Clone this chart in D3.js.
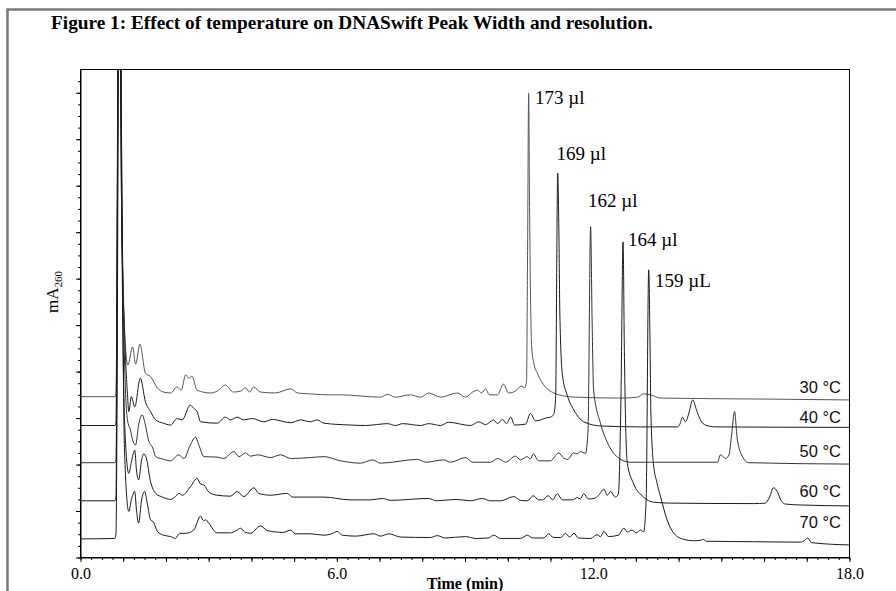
<!DOCTYPE html>
<html><head><meta charset="utf-8">
<script src="https://cdn.jsdelivr.net/npm/d3@7/dist/d3.min.js"></script>
<style>
html,body{margin:0;padding:0;background:#fff;}
svg{display:block;}
</style></head>
<body>
<div id="chart"></div>
<script>
// ---------- DATA ----------
const title = "Figure 1: Effect of temperature on DNASwift Peak Width and resolution.";
const xAxisTitle = "Time (min)";
const yAxisTitle = "mA";
const yAxisSub = "260";
const xTickLabels = [0, 6, 12, 18];
const temperatures = ["30 °C", "40 °C", "50 °C", "60 °C", "70 °C"];
const peakVolumes = ["173 µl", "169 µl", "162 µl", "164 µl", "159 µL"];

// [time (min), absorbance (arbitrary mA, offset traces)]
const trace30 = [[0,34.6],[0.807,34.6],[0.83,35.2],[0.91,150],[0.965,77],[1.03,49],[1.11,41.4],[1.22,45.3],[1.29,41.6],[1.39,45.9],[1.52,39.7],[1.64,38.9],[1.80,36.5],[1.94,35.6],[2.11,35.4],[2.26,36.7],[2.36,36.0],[2.46,39.3],[2.54,38.6],[2.61,39.0],[2.73,36.0],[3.04,35.4],[3.20,35.8],[3.39,37.1],[3.58,35.6],[3.75,35.8],[3.86,36.5],[3.96,35.6],[4.05,36.7],[4.21,35.6],[4.56,35.4],[4.92,36.3],[5.08,35.4],[5.38,35.2],[5.85,35.0],[6.09,35.0],[7.02,34.5],[7.19,35.1],[7.37,34.5],[7.72,35.0],[7.96,34.5],[8.15,35.4],[8.43,34.5],[8.82,35.4],[9.01,34.5],[9.18,35.6],[9.29,36.0],[9.39,35.4],[9.48,36.3],[9.57,35.0],[9.76,35.0],[9.90,37.3],[10.02,35.4],[10.18,35.8],[10.32,36.9],[10.40,36.5],[10.44,38.0],[10.465,66],[10.49,99.9],[10.51,76.9],[10.535,55.4],[10.56,45.3],[10.62,41.4],[10.69,39.7],[10.88,36.7],[11.08,35.4],[11.35,34.7],[11.59,34.5],[12.64,34.3],[13.04,34.5],[13.18,35.2],[13.34,35.0],[13.58,34.3],[15.92,34.1],[18,33.9]];
const trace40 = [[0,28.4],[0.807,28.4],[0.83,29],[0.90,150],[0.96,77],[1.03,48.9],[1.10,35.0],[1.13,31.4],[1.19,34.6],[1.27,32.4],[1.40,38.6],[1.52,33.5],[1.64,31.4],[1.76,29.6],[1.94,28.9],[2.11,28.5],[2.26,29.9],[2.38,29.6],[2.57,32.8],[2.65,32.1],[2.73,31.4],[2.81,29.2],[3.20,28.9],[3.39,30.2],[3.51,29.6],[3.67,30.2],[3.82,29.6],[4.02,29.9],[4.29,29.2],[4.49,29.7],[4.92,29.0],[5.15,29.6],[5.38,29.2],[5.54,29.6],[5.70,28.9],[6.32,28.5],[6.67,28.4],[7.19,28.8],[7.37,28.4],[7.54,28.8],[7.96,28.4],[8.15,28.8],[8.43,28.4],[8.61,29.1],[9.13,28.4],[9.32,29.2],[9.48,28.6],[9.67,29.6],[9.76,28.8],[9.88,29.7],[9.97,28.8],[10.07,30.2],[10.16,28.5],[10.42,28.7],[10.53,31.0],[10.65,29.4],[10.77,29.6],[10.88,30.0],[11.0,30.2],[11.07,30.7],[11.12,33.9],[11.17,82.7],[11.20,68.3],[11.22,52.6],[11.28,39.3],[11.39,35.0],[11.55,31.7],[11.78,29.2],[12.17,28.3],[13.11,28.1],[13.97,28.1],[14.04,28.9],[14.09,30.2],[14.16,29.2],[14.23,30.7],[14.33,33.9],[14.42,31.7],[14.51,29.6],[14.63,28.5],[14.86,28.1],[18,28.0]];
const trace50 = [[0,20.4],[0.807,20.4],[0.83,21],[0.91,150],[0.97,77],[1.03,42.5],[1.10,29.6],[1.17,27.4],[1.22,25.3],[1.29,24.2],[1.36,28.5],[1.44,30.7],[1.52,28.5],[1.59,25.3],[1.69,23.6],[1.76,21.7],[1.92,21.2],[2.11,20.8],[2.30,22.1],[2.42,21.3],[2.57,24.2],[2.69,25.9],[2.77,24.2],[2.89,21.7],[3.20,21.6],[3.35,21.3],[3.59,22.8],[3.71,21.7],[3.86,22.5],[3.98,21.8],[4.14,22.1],[4.45,21.5],[4.68,22.1],[4.92,21.3],[5.38,21.5],[5.70,21.7],[6.09,20.8],[6.55,20.3],[6.84,21.0],[7.02,20.3],[7.89,21.1],[8.08,20.5],[8.50,21.0],[8.66,20.5],[9.01,21.5],[9.18,20.5],[9.60,20.5],[9.76,21.3],[9.95,20.5],[10.18,21.8],[10.30,21.0],[10.46,21.7],[10.53,21.2],[10.60,22.3],[10.72,20.8],[11.0,20.8],[11.19,22.5],[11.31,21.4],[11.40,21.1],[11.54,22.5],[11.63,22.3],[11.70,22.8],[11.82,22.4],[11.88,27.4],[11.94,71.2],[11.975,51.1],[12.01,36.0],[12.17,28.9],[12.34,24.6],[12.57,21.6],[12.87,20.5],[13.34,20.5],[14.91,20.5],[14.98,22.1],[15.10,21.3],[15.18,22.1],[15.24,26.4],[15.31,31.4],[15.37,25.7],[15.49,21.8],[15.64,20.4],[18,20.1]];
const trace60 = [[0,12.2],[0.807,12.2],[0.83,13],[0.90,150],[0.96,77],[1.03,29.6],[1.13,18.1],[1.19,20.5],[1.27,23.1],[1.31,18.8],[1.36,16.7],[1.43,21.0],[1.48,22.3],[1.54,21.4],[1.64,16.3],[1.76,13.8],[1.92,13.0],[2.11,12.5],[2.22,13.1],[2.30,13.8],[2.39,13.4],[2.57,15.2],[2.73,17.0],[2.81,15.8],[2.89,15.6],[3.00,14.1],[3.20,13.4],[3.51,13.2],[3.67,14.2],[3.82,13.1],[4.06,15.0],[4.17,13.8],[4.45,13.4],[4.84,13.8],[4.96,13.0],[5.38,13.0],[5.70,13.0],[6.32,12.4],[6.79,12.4],[7.07,12.7],[7.26,12.3],[8.15,12.7],[8.33,12.2],[8.78,12.5],[9.13,12.2],[9.40,12.7],[9.60,12.2],[9.83,12.2],[10.14,13.1],[10.30,12.3],[10.46,12.2],[10.60,13.3],[10.72,12.4],[10.81,12.4],[10.95,13.3],[11.05,12.4],[11.16,13.7],[11.28,12.4],[11.52,12.4],[11.63,12.9],[11.70,12.6],[11.78,13.7],[11.89,12.6],[12.02,12.7],[12.13,13.4],[12.25,14.7],[12.33,13.4],[12.41,14.2],[12.52,13.0],[12.59,13.7],[12.65,33.9],[12.70,67.9],[12.73,44.6],[12.77,25.3],[12.80,20.3],[12.94,16.0],[13.18,13.0],[13.41,11.9],[13.81,11.7],[15.75,11.6],[16.03,11.7],[16.13,13.0],[16.22,15.0],[16.31,14.2],[16.39,12.4],[16.50,11.5],[16.85,11.3],[18,11.1]];
const trace70 = [[0,4.0],[0.807,4.1],[0.83,5],[0.92,150],[0.97,77],[1.03,23.1],[1.13,9.9],[1.19,12.4],[1.27,14.2],[1.31,10.2],[1.36,7.4],[1.43,12.4],[1.50,14.2],[1.57,11.3],[1.64,8.1],[1.71,7.6],[1.80,5.6],[1.94,4.8],[2.11,4.5],[2.22,4.1],[2.32,5.2],[2.46,5.2],[2.65,5.9],[2.81,8.9],[2.88,7.9],[2.93,8.1],[3.00,7.4],[3.20,5.3],[3.51,5.3],[3.63,5.7],[3.75,6.3],[3.84,5.5],[3.98,5.2],[4.21,6.8],[4.37,5.8],[4.56,5.5],[4.75,5.4],[4.92,5.9],[5.03,5.1],[5.38,5.1],[5.70,4.8],[5.88,5.1],[6.01,5.6],[6.13,4.8],[6.44,4.6],[6.87,5.1],[7.02,4.6],[7.22,5.1],[7.49,4.4],[8.19,4.3],[8.35,4.7],[8.54,4.2],[9.01,4.5],[9.25,4.1],[9.55,4.2],[9.67,4.8],[9.83,4.1],[10.30,4.1],[10.46,4.8],[10.58,4.2],[10.84,4.2],[10.96,5.1],[11.07,4.3],[11.24,4.3],[11.35,5.2],[11.45,4.4],[11.55,5.2],[11.66,4.2],[11.94,4.1],[12.09,4.9],[12.17,4.5],[12.25,5.6],[12.36,4.5],[12.59,4.8],[12.72,6.3],[12.80,5.5],[12.91,5.9],[13.01,5.3],[13.11,5.9],[13.18,5.5],[13.24,12.4],[13.30,61.9],[13.33,46.8],[13.35,31.7],[13.41,20.3],[13.49,16.2],[13.58,13.0],[13.73,8.1],[13.89,5.2],[14.12,3.9],[14.35,3.6],[14.51,3.7],[14.58,3.9],[14.65,3.5],[15.75,3.4],[16.85,3.3],[16.95,3.7],[17.02,4.2],[17.11,3.2],[18,2.7]];
const traces = [trace30, trace40, trace50, trace60, trace70];

// ---------- LAYOUT ----------
const W = 896, H = 591;
const plot = {left: 80.5, right: 849.5, top: 69.5, bottom: 557.5};
const traceColors = ["#555", "#1a1a1a", "#333", "#1a1a1a", "#1a1a1a"];
const tempLabelBaseline = [392.5, 422.5, 456.5, 497, 528];
const volumeLabelPos = [[535,104],[556.5,159.5],[588,207],[628,246],[655,287]];

const svg = d3.select("#chart").append("svg").attr("width", W).attr("height", H);

// outer gray frame
svg.append("rect").attr("x", 7.5).attr("y", 9.5).attr("width", 1000).attr("height", 1000)
  .attr("fill", "none").attr("stroke", "#7a7a7a").attr("stroke-width", 2.5);

const serif = "'Liberation Serif','Times New Roman',serif";
svg.append("text").attr("x", 51).attr("y", 29)
  .attr("font-family", serif)
  .attr("font-weight", "bold").attr("font-size", 19.3).attr("fill", "#000").text(title);

const x = d3.scaleLinear().domain([0, 18]).range([plot.left, plot.right]);
const y = d3.scaleLinear().domain([0, 105]).range([plot.bottom, plot.top]);

svg.append("clipPath").attr("id", "clip").append("rect")
  .attr("x", plot.left).attr("y", plot.top).attr("width", plot.right - plot.left).attr("height", plot.bottom - plot.top);

const line = d3.line().x(d => x(d[0])).y(d => y(d[1])).curve(d3.curveMonotoneX);
const gLines = svg.append("g").attr("clip-path", "url(#clip)");
traces.forEach((tr, i) => {
  gLines.append("path").datum(tr).attr("d", line).attr("fill", "none")
    .attr("stroke", traceColors[i]).attr("stroke-width", 1).attr("stroke-linejoin", "round");
});

// frame
svg.append("rect").attr("x", plot.left).attr("y", plot.top)
  .attr("width", plot.right - plot.left).attr("height", plot.bottom - plot.top)
  .attr("fill", "none").attr("stroke", "#000").attr("stroke-width", 1);

// x axis minor
svg.append("g").attr("transform", `translate(0,${plot.bottom})`)
  .call(d3.axisBottom(x).tickValues(d3.range(0, 18.001, 0.25)).tickSize(2.5).tickSizeOuter(0).tickFormat(""))
  .call(g => g.select(".domain").remove());
// x axis major
const xMajor = svg.append("g").attr("transform", `translate(0,${plot.bottom})`)
  .call(d3.axisBottom(x).tickValues(d3.range(0, 18.001, 1)).tickSize(4.5).tickSizeOuter(0).tickPadding(5.5)
    .tickFormat(d => xTickLabels.includes(d) ? d3.format(".1f")(d) : ""));
xMajor.select(".domain").attr("stroke", "#000");
xMajor.selectAll("text").attr("font-family", serif).attr("font-size", 16).attr("fill", "#000");

// y axis minor + major (no labels)
svg.append("g").attr("transform", `translate(${plot.left},0)`)
  .call(d3.axisLeft(y).tickValues(d3.range(0, 105, 2.5)).tickSize(2.5).tickSizeOuter(0).tickFormat(""))
  .call(g => g.select(".domain").remove());
svg.append("g").attr("transform", `translate(${plot.left},0)`)
  .call(d3.axisLeft(y).tickValues(d3.range(0, 101, 10)).tickSize(4.5).tickSizeOuter(0).tickFormat(""));

// axis titles
svg.append("text").attr("x", 465).attr("y", 589).attr("text-anchor", "middle")
  .attr("font-family", serif).attr("font-weight", "bold").attr("font-size", 16).text(xAxisTitle);
const yt = svg.append("text").attr("transform", "translate(58,292) rotate(-90)").attr("text-anchor", "middle")
  .attr("font-family", serif).attr("font-size", 17);
yt.append("tspan").text(yAxisTitle);
yt.append("tspan").attr("dy", 4).attr("font-size", 11).text(yAxisSub);

// temperature labels
temperatures.forEach((t, i) => {
  svg.append("text").attr("x", 841).attr("y", tempLabelBaseline[i]).attr("text-anchor", "end")
    .attr("font-family", "'Liberation Sans',Arial,sans-serif").attr("font-size", 16.5).attr("fill", "#111").text(t);
});
// peak volume labels
peakVolumes.forEach((v, i) => {
  svg.append("text").attr("x", volumeLabelPos[i][0]).attr("y", volumeLabelPos[i][1])
    .attr("font-family", serif).attr("font-size", 19).attr("fill", "#000").text(v);
});
</script>
</body></html>
